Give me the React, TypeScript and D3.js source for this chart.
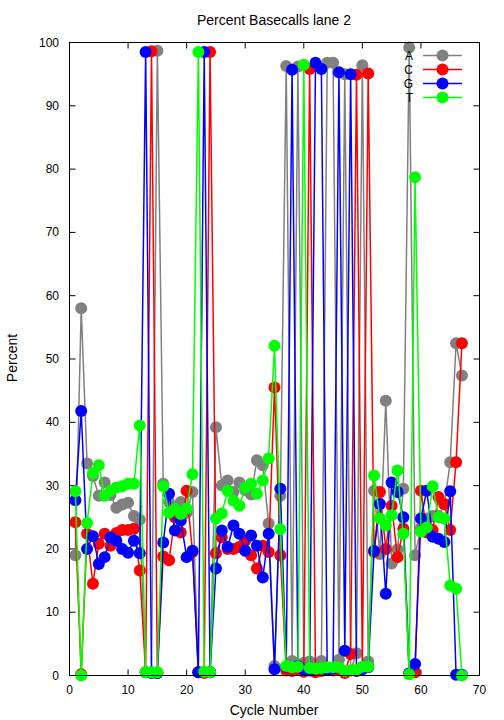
import React from "react";
import * as d3 from "d3";

const cycles = d3.range(1, 68);
const seriesA = [19,58,33.5,31.5,28.4,30.5,28.5,26.5,27,27.3,25.2,24.6,0.5,0.5,98.7,30.3,27.4,25.8,27.4,25.7,29,0.5,0.5,0.5,39.2,30,30.8,29,30.5,29.3,28.6,34,33.2,24,1.5,28.4,96.3,2.3,96.2,2,2.2,1.6,2.3,96.8,96.8,2.5,95,0.8,3.5,96.4,2.2,29.2,19.2,43.4,17.7,19.9,29.5,99.2,19,23.3,24.8,25.2,25.2,27,33.7,52.5,47.4];
const seriesC = [24.2,0.2,22.4,14.5,20.8,22.4,20.5,22.5,23,23,23.2,16.6,0.5,98.6,0.4,18.8,18.2,25,22.6,29.2,19.5,0.5,0.4,98.5,19.3,21.8,20,20,20.3,21.3,19,16.9,20.5,19.5,45.5,19,0.8,0.7,0.9,0.6,95.8,0.5,0.7,1.0,0.8,0.9,0.4,3.4,94.9,1.2,95.1,19.5,29,20,26.8,18.7,23.2,0.3,0.5,29.2,22.6,23,28.2,27.1,23,33.7,52.5];
const seriesG = [27.7,41.8,20,22,17.6,18.7,21.8,21.3,20,19.4,21.3,19.3,98.5,0.4,0.4,21,28.7,22.9,24.5,18.7,19.7,0.5,98.5,0.5,16.9,22.9,20.3,23.7,22.4,19.7,22.1,20.5,15.5,22.4,1,29.5,1.4,95.7,1.5,0.9,0.8,96.8,95.8,0.9,1.1,95.3,3.9,95,0.7,1.0,1.3,19.7,27.1,12.9,30.5,29,25,0.3,1.8,24.8,29.2,21.9,21.6,21.1,29.1,0.1,0.1];
const seriesT = [29.1,0,24.1,32,33.2,28.4,29.2,29.7,29.9,30.3,30.3,39.5,0.5,0.5,0.5,29.9,25.7,26.3,25.5,26.4,31.8,98.5,0.6,0.5,24.8,25.6,29.2,27.6,26.8,29.7,30.3,28.7,30.8,34.3,52.1,23.1,1.5,1.3,1.4,96.5,1.2,1.1,1.2,1.3,1.3,1.3,0.7,0.8,0.9,1.4,1.4,31.6,24.8,23.7,25.3,32.4,22.4,0.2,78.7,22.7,23.4,29.9,25,24.8,14.2,13.7,0];
const seriesNames = ["A", "C", "G", "T"];
const seriesColors = ["#808080", "#ff0000", "#0000ff", "#00ff00"];
const xTicks = [0, 10, 20, 30, 40, 50, 60, 70];
const yTicks = [0, 10, 20, 30, 40, 50, 60, 70, 80, 90, 100];

const W = 504, H = 720;
const L = 69.5, R = 479.5, T = 42.5, B = 675.5;
const font = "'Liberation Sans', Arial, sans-serif";

export default function App() {
  const x = d3.scaleLinear().domain([0, 70]).range([L, R]);
  const y = d3.scaleLinear().domain([0, 100]).range([B, T]);
  const all = [seriesA, seriesC, seriesG, seriesT];
  const line = d3.line<number>().x((_, i) => x(cycles[i])).y((d) => y(d));
  const tl = 6;
  return (
    <svg width={W} height={H} style={{ position: "absolute", left: 0, top: 0, background: "#fff" }} fontFamily={font}>
      <rect x={0} y={0} width={W} height={H} fill="#fff" />
      <text x={274} y={25} textAnchor="middle" fontSize={14}>Percent Basecalls lane 2</text>
      <text x={274} y={715} textAnchor="middle" fontSize={14}>Cycle Number</text>
      <text transform={`translate(17,358) rotate(-90)`} textAnchor="middle" fontSize={14}>Percent</text>
      {yTicks.map((t) => (
        <g key={"y" + t}>
          <line x1={L} x2={L + tl} y1={y(t)} y2={y(t)} stroke="#000" />
          <line x1={R} x2={R - tl} y1={y(t)} y2={y(t)} stroke="#000" />
          <text x={59} y={y(t) + 4} textAnchor="end" fontSize={12}>{t}</text>
        </g>
      ))}
      {xTicks.map((t) => (
        <g key={"x" + t}>
          <line x1={x(t)} x2={x(t)} y1={B} y2={B - tl} stroke="#000" />
          <line x1={x(t)} x2={x(t)} y1={T} y2={T + tl} stroke="#000" />
          <text x={x(t)} y={694} textAnchor="middle" fontSize={12}>{t}</text>
        </g>
      ))}
      {all.map((s, k) => (
        <g key={"s" + k}>
          <path d={line(s) || ""} fill="none" stroke={seriesColors[k]} strokeWidth={1.5} />
          {s.map((v, i) => (
            <circle key={i} cx={x(cycles[i])} cy={y(v)} r={6} fill={seriesColors[k]} />
          ))}
        </g>
      ))}
      {seriesNames.map((n, k) => {
        const ly = 55.5 + k * 14;
        return (
          <g key={"l" + n}>
            <text x={413} y={ly + 4} textAnchor="end" fontSize={12}>{n}</text>
            <line x1={423} x2={462} y1={ly} y2={ly} stroke={seriesColors[k]} strokeWidth={1.5} />
            <circle cx={442.5} cy={ly} r={6} fill={seriesColors[k]} />
          </g>
        );
      })}
      <rect x={L} y={T} width={R - L} height={B - T} fill="none" stroke="#000" />
    </svg>
  );
}
